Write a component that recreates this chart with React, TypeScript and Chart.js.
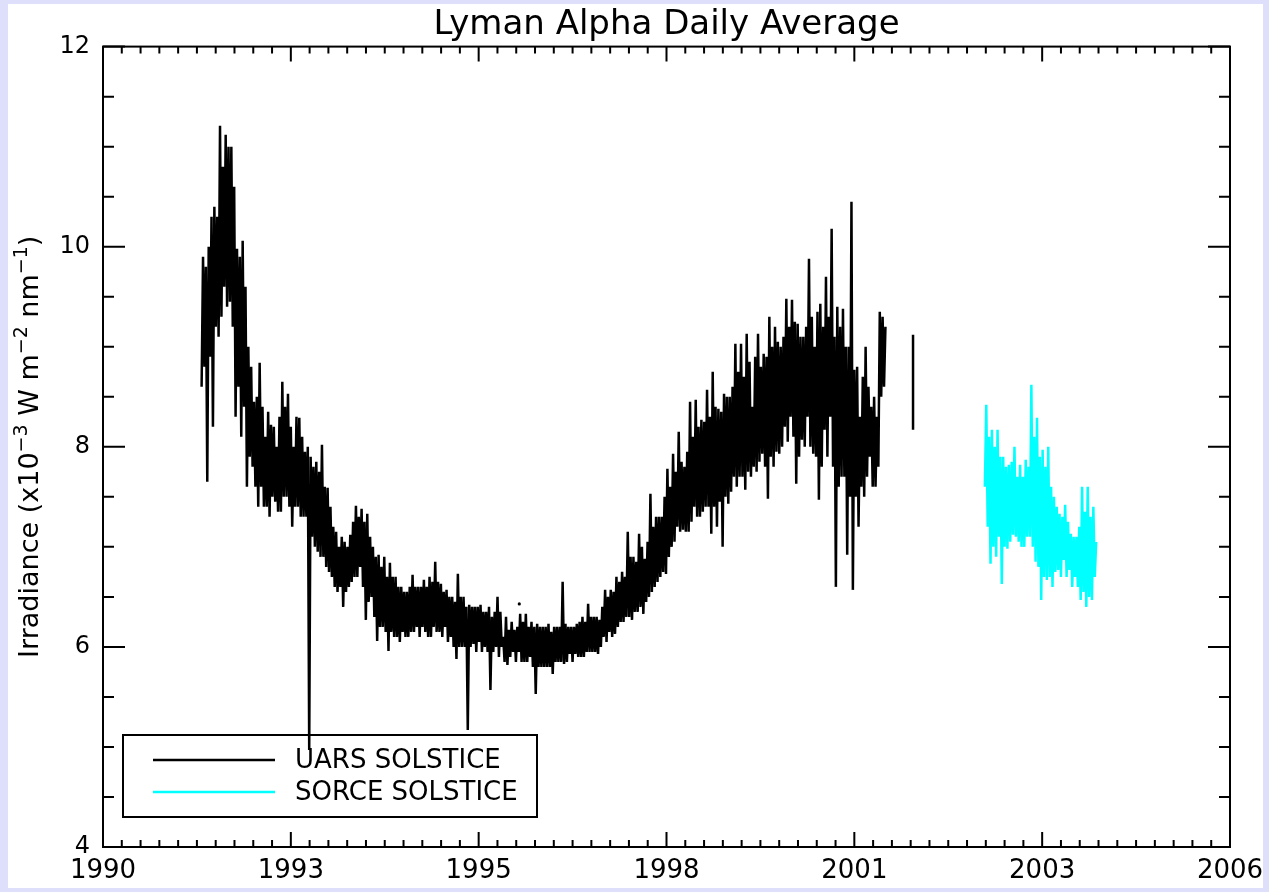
import React, { useEffect, useRef } from 'react';
import { Chart, registerables } from 'chart.js';

Chart.register(...registerables);

const FONT = '"DejaVu Sans", "Liberation Sans", sans-serif';
const TITLE = 'Lyman Alpha Daily Average';
// y-axis title split into normal / superscript runs
const yTitleParts = [
  { text: 'Irradiance (x10', sup: false },
  { text: '−3', sup: true },
  { text: ' W m', sup: false },
  { text: '−2', sup: true },
  { text: ' nm', sup: false },
  { text: '−1', sup: true },
  { text: ')', sup: false },
];

const X_MIN = 1990;
const X_MAX = 2006;
const xTickLabels = ['1990', '1993', '1995', '1998', '2001', '2003', '2006'];
const yTickValues = [4, 6, 8, 10, 12];
const Y_MIN = 4;
const Y_MAX = 12;

// regularly sampled records: start year and sampling interval (years)
const UARS_START = 1991.4;
const UARS_STEP = 0.0201;
const SORCE_START = 2002.52;
const SORCE_STEP = 0.02;

const uarsValues = [
  8.6, 9.9, 8.8, 9.8, 7.65, 10.0, 8.9, 10.3, 8.2, 10.4, 9.2, 10.3,
  9.1, 11.21, 9.3, 10.8, 9.6, 11.12, 9.4, 11.0, 9.45, 11.0, 9.2, 10.6,
  8.3, 9.98, 8.6, 9.9, 8.1, 10.06, 8.4, 9.6, 7.6, 9.0, 7.9, 8.8,
  7.8, 8.45, 7.6, 8.5, 7.4, 8.84, 7.6, 8.4, 7.4, 8.1, 7.4, 8.35,
  7.3, 8.22, 7.5, 8.2, 7.45, 8.0, 7.35, 8.3, 7.35, 8.65, 7.5, 8.4,
  7.5, 8.53, 7.4, 8.2, 7.2, 8.0, 7.4, 8.3, 7.4, 8.29, 7.3, 8.1,
  7.3, 7.95, 7.3, 8.0, 4.97, 7.9, 7.1, 7.8, 7.0, 7.85, 6.95, 7.75,
  6.9, 8.02, 6.9, 7.6, 6.8, 7.59, 6.75, 7.4, 6.7, 7.2, 6.6, 7.15,
  6.55, 7.0, 6.6, 7.1, 6.4, 7.05, 6.55, 7.0, 6.6, 7.12, 6.65, 7.25,
  6.7, 7.41, 6.7, 7.3, 6.8, 7.38, 6.6, 7.25, 6.27, 7.33, 6.45, 7.1,
  6.5, 7.0, 6.3, 6.9, 6.06, 6.92, 6.2, 6.8, 6.2, 6.9, 6.15, 6.7,
  5.96, 6.84, 6.15, 6.7, 6.1, 6.7, 6.1, 6.6, 6.05, 6.6, 6.15, 6.55,
  6.1, 6.55, 6.1, 6.6, 6.15, 6.72, 6.15, 6.6, 6.2, 6.6, 6.1, 6.6,
  6.2, 6.67, 6.15, 6.6, 6.1, 6.7, 6.1, 6.65, 6.2, 6.85, 6.15, 6.65,
  6.15, 6.63, 6.1, 6.55, 6.2, 6.57, 6.05, 6.5, 6.1, 6.5, 6.0, 6.45,
  5.88, 6.73, 6.0, 6.5, 6.0, 6.5, 6.0, 6.4, 5.17, 6.42, 6.0, 6.4,
  6.03, 6.4, 5.95, 6.4, 6.05, 6.42, 5.95, 6.35, 6.0, 6.35, 5.95, 6.4,
  5.57, 6.3, 5.95, 6.35, 6.0, 6.5, 5.9, 6.35, 6.0, 6.1, 5.85, 6.3,
  5.82, 6.17, 5.9, 6.25, 5.95, 6.17, 5.85, 6.2, 5.95, 6.33, 5.85, 6.25,
  5.85, 6.33, 5.85, 6.2, 5.9, 6.25, 5.8, 6.2, 5.53, 6.23, 5.8, 6.2,
  5.8, 6.2, 5.8, 6.2, 5.8, 6.23, 5.8, 6.15, 5.73, 6.2, 5.85, 6.2,
  5.85, 6.2, 5.85, 6.65, 5.83, 6.23, 5.85, 6.2, 5.93, 6.2, 5.85, 6.2,
  5.93, 6.23, 5.9, 6.25, 5.9, 6.3, 5.9, 6.25, 5.95, 6.43, 5.95, 6.3,
  5.95, 6.3, 5.95, 6.3, 5.93, 6.27, 6.0, 6.4, 6.1, 6.57, 6.05, 6.5,
  6.15, 6.57, 6.1, 6.55, 6.13, 6.7, 6.2, 6.65, 6.25, 6.75, 6.25, 6.7,
  6.3, 7.15, 6.3, 6.9, 6.27, 6.9, 6.35, 6.85, 6.35, 7.13, 6.4, 7.0,
  6.33, 6.88, 6.45, 7.05, 6.5, 7.53, 6.55, 7.2, 6.6, 7.3, 6.65, 7.3,
  6.7, 7.3, 6.75, 7.5, 6.73, 7.78, 6.9, 7.6, 7.0, 7.93, 7.05, 7.75,
  7.2, 8.15, 7.15, 7.85, 7.17, 7.8, 7.15, 7.95, 7.15, 8.45, 7.25, 8.1,
  7.4, 8.47, 7.3, 8.2, 7.3, 8.27, 7.35, 8.25, 7.4, 8.57, 7.4, 8.3,
  7.13, 8.75, 7.4, 8.4, 7.2, 8.38, 7.45, 8.35, 7.0, 8.53, 7.5, 8.5,
  7.43, 8.5, 7.55, 8.6, 7.7, 9.03, 7.6, 8.75, 7.7, 9.03, 7.7, 8.7,
  7.57, 9.13, 7.75, 8.85, 7.7, 8.4, 7.8, 8.9, 7.75, 9.13, 7.85, 8.8,
  7.93, 8.93, 7.8, 8.9, 7.48, 9.3, 7.9, 9.0, 7.8, 9.2, 7.95, 9.05,
  7.93, 9.0, 8.0, 9.1, 8.2, 9.48, 8.05, 9.2, 8.3, 9.47, 8.1, 9.25,
  7.63, 9.23, 7.9, 9.1, 8.07, 9.1, 8.0, 9.2, 8.3, 9.88, 8.0, 9.3,
  7.93, 9.0, 7.9, 9.35, 7.47, 9.43, 7.8, 9.2, 8.17, 9.7, 7.9, 9.3,
  8.3, 10.18, 7.8, 9.1, 6.6, 9.4, 7.6, 9.2, 7.7, 9.38, 7.7, 9.0,
  6.92, 9.0, 7.5, 10.45, 6.57, 8.77, 7.5, 8.8, 7.2, 8.3, 7.6, 8.7,
  7.5, 9.0, 7.7, 8.6, 7.9, 8.4, 7.6, 8.5, 7.6, 8.3, 7.8, 9.35,
  8.5, 9.3, 8.6, 9.2,
];

// short isolated UARS segment after the main record
const uarsTailYears = [2001.5, 2001.5];
const uarsTailValues = [8.17, 9.12];
// isolated single UARS day
const uarsDotYears = [1995.91];
const uarsDotValues = [6.43];

const sorceValues = [
  7.6, 8.42, 7.2, 8.1, 6.83, 8.17, 7.0, 8.0, 6.9, 8.17, 7.1, 7.9,
  6.63, 7.9, 7.0, 7.8, 6.98, 7.82, 7.05, 7.85, 7.12, 8.0, 7.1, 7.7,
  7.05, 7.82, 7.0, 7.7, 7.0, 7.87, 7.1, 7.8, 7.1, 8.62, 7.0, 8.1,
  6.85, 8.29, 6.8, 7.9, 6.47, 7.97, 6.7, 7.8, 6.67, 8.0, 6.7, 7.6,
  6.6, 7.5, 6.75, 7.4, 6.77, 7.33, 6.7, 7.3, 6.87, 7.42, 6.7, 7.25,
  6.77, 7.13, 6.6, 7.1, 6.7, 7.1, 6.6, 7.2, 6.47, 7.6, 6.55, 7.35,
  6.4, 7.6, 6.5, 7.3, 6.47, 7.4, 6.7, 7.05,
];

const UARS_COLOR = '#000000';
const SORCE_COLOR = '#00ffff';

const xTickValues = xTickLabels.map((_, k) => X_MIN + (k * (X_MAX - X_MIN)) / (xTickLabels.length - 1));

const framePlugin = {
  id: 'idlFrame',
  afterDatasetsDraw(chart: any) {
    const { ctx, chartArea: a, scales } = chart;
    const xs = scales.x;
    const ys = scales.y;
    ctx.save();

    // title
    ctx.fillStyle = '#000';
    ctx.font = '34px ' + FONT;
    ctx.textAlign = 'center';
    ctx.textBaseline = 'alphabetic';
    ctx.fillText(TITLE, (a.left + a.right) / 2, 30);

    // y-axis title with superscripts, rotated
    const mainFont = '27px ' + FONT;
    const supFont = '19px ' + FONT;
    let total = 0;
    const widths = yTitleParts.map((p) => {
      ctx.font = p.sup ? supFont : mainFont;
      const w = ctx.measureText(p.text).width;
      total += w;
      return w;
    });
    ctx.save();
    ctx.translate(20, (a.top + a.bottom) / 2);
    ctx.rotate(-Math.PI / 2);
    ctx.textAlign = 'left';
    let cx = -total / 2;
    yTitleParts.forEach((p, i) => {
      ctx.font = p.sup ? supFont : mainFont;
      ctx.fillText(p.text, cx, p.sup ? -1 : 10);
      cx += widths[i];
    });
    ctx.restore();

    // frame and ticks
    ctx.strokeStyle = '#000';
    ctx.lineWidth = 2;
    ctx.lineCap = 'butt';
    ctx.strokeRect(a.left, a.top, a.right - a.left, a.bottom - a.top);
    ctx.beginPath();
    const nMajorX = xTickLabels.length - 1;
    const xMajor = (X_MAX - X_MIN) / nMajorX;
    for (let k = 0; k <= nMajorX * 10; k++) {
      const px = xs.getPixelForValue(X_MIN + (k * xMajor) / 10);
      const len = k % 10 === 0 ? 15 : 7;
      ctx.moveTo(px, a.bottom);
      ctx.lineTo(px, a.bottom - len);
      ctx.moveTo(px, a.top);
      ctx.lineTo(px, a.top + len);
    }
    const nMinorY = (Y_MAX - Y_MIN) / 0.5;
    for (let k = 0; k <= nMinorY; k++) {
      const py = ys.getPixelForValue(Y_MIN + k * 0.5);
      const len = k % 4 === 0 ? 22 : 11;
      ctx.moveTo(a.left, py);
      ctx.lineTo(a.left + len, py);
      ctx.moveTo(a.right, py);
      ctx.lineTo(a.right - len, py);
    }
    ctx.stroke();

    // legend box (lower left, inside plot)
    const bx = a.left + 20;
    const by = a.bottom - 112;
    const bw = 414;
    const bh = 82;
    ctx.lineWidth = 2;
    ctx.strokeRect(bx, by, bw, bh);
    const items = chart.data.datasets.filter((d: any) => d.label);
    ctx.font = '26px ' + FONT;
    ctx.textBaseline = 'middle';
    ctx.textAlign = 'left';
    ctx.fillStyle = '#000';
    items.forEach((d: any, i: number) => {
      const ly = by + 25 + i * 32;
      ctx.beginPath();
      ctx.strokeStyle = d.borderColor;
      ctx.lineWidth = 2.5;
      ctx.moveTo(bx + 30, ly);
      ctx.lineTo(bx + 152, ly);
      ctx.stroke();
      ctx.fillText(d.label, bx + 172, ly + 1);
    });
    ctx.restore();
  },
};

export default function App() {
  const ref = useRef<HTMLCanvasElement | null>(null);

  useEffect(() => {
    const canvas = ref.current;
    if (!canvas) return;
    Chart.defaults.font.family = FONT;

    const uarsData: any[] = uarsValues.map((v, i) => ({ x: UARS_START + i * UARS_STEP, y: v }));
    uarsData.push({ x: 2001.3, y: null });
    uarsTailYears.forEach((yr, i) => uarsData.push({ x: yr, y: uarsTailValues[i] }));
    const sorceData = sorceValues.map((v, i) => ({ x: SORCE_START + i * SORCE_STEP, y: v }));
    const dotData = uarsDotYears.map((yr, i) => ({ x: yr, y: uarsDotValues[i] }));

    const chart = new Chart(canvas, {
      type: 'line',
      data: {
        datasets: [
          {
            label: 'UARS SOLSTICE',
            data: uarsData,
            borderColor: UARS_COLOR,
            backgroundColor: UARS_COLOR,
            borderWidth: 2.5,
            pointRadius: 0,
            tension: 0,
            spanGaps: false,
          },
          {
            label: 'SORCE SOLSTICE',
            data: sorceData,
            borderColor: SORCE_COLOR,
            backgroundColor: SORCE_COLOR,
            borderWidth: 2.5,
            pointRadius: 0,
            tension: 0,
          },
          {
            label: '',
            data: dotData,
            showLine: false,
            pointRadius: 1.6,
            pointBorderWidth: 0,
            pointBackgroundColor: UARS_COLOR,
            borderColor: UARS_COLOR,
          },
        ],
      } as any,
      options: {
        responsive: false,
        animation: false,
        devicePixelRatio: 1,
        layout: { padding: { top: 42.6, left: 0, right: 0, bottom: 0 } },
        plugins: {
          legend: { display: false },
          tooltip: { enabled: false },
          title: { display: false },
        },
        scales: {
          x: {
            type: 'linear',
            min: X_MIN,
            max: X_MAX,
            grid: { display: false, drawTicks: false },
            border: { display: false },
            afterBuildTicks: (s: any) => {
              s.ticks = xTickValues.map((v) => ({ value: v }));
            },
            afterFit: (s: any) => {
              s.height = 41;
              s.paddingLeft = 33;
              s.paddingRight = 33;
            },
            ticks: {
              autoSkip: false,
              maxRotation: 0,
              padding: 9,
              color: '#000',
              font: { family: FONT, size: 26 },
              callback: (_v: any, i: number) => xTickLabels[i],
            },
          },
          y: {
            type: 'linear',
            min: Y_MIN,
            max: Y_MAX,
            grid: { display: false, drawTicks: false },
            border: { display: false },
            afterBuildTicks: (s: any) => {
              s.ticks = yTickValues.map((v) => ({ value: v }));
            },
            afterFit: (s: any) => {
              s.width = 95;
            },
            ticks: {
              padding: 13,
              color: '#000',
              font: { family: FONT, size: 24 },
              callback: (v: any) => String(v),
            },
          },
        },
      } as any,
      plugins: [framePlugin],
    });
    return () => chart.destroy();
  }, []);

  return (
    <div style={{ position: 'fixed', left: 0, top: 0, width: 1269, height: 892, background: '#dedffb' }}>
      <div style={{ position: 'absolute', left: 8, top: 4, width: 1255, height: 884, background: '#ffffff' }}>
        <canvas ref={ref} width={1255} height={884} style={{ display: 'block', width: 1255, height: 884 }} />
      </div>
    </div>
  );
}
